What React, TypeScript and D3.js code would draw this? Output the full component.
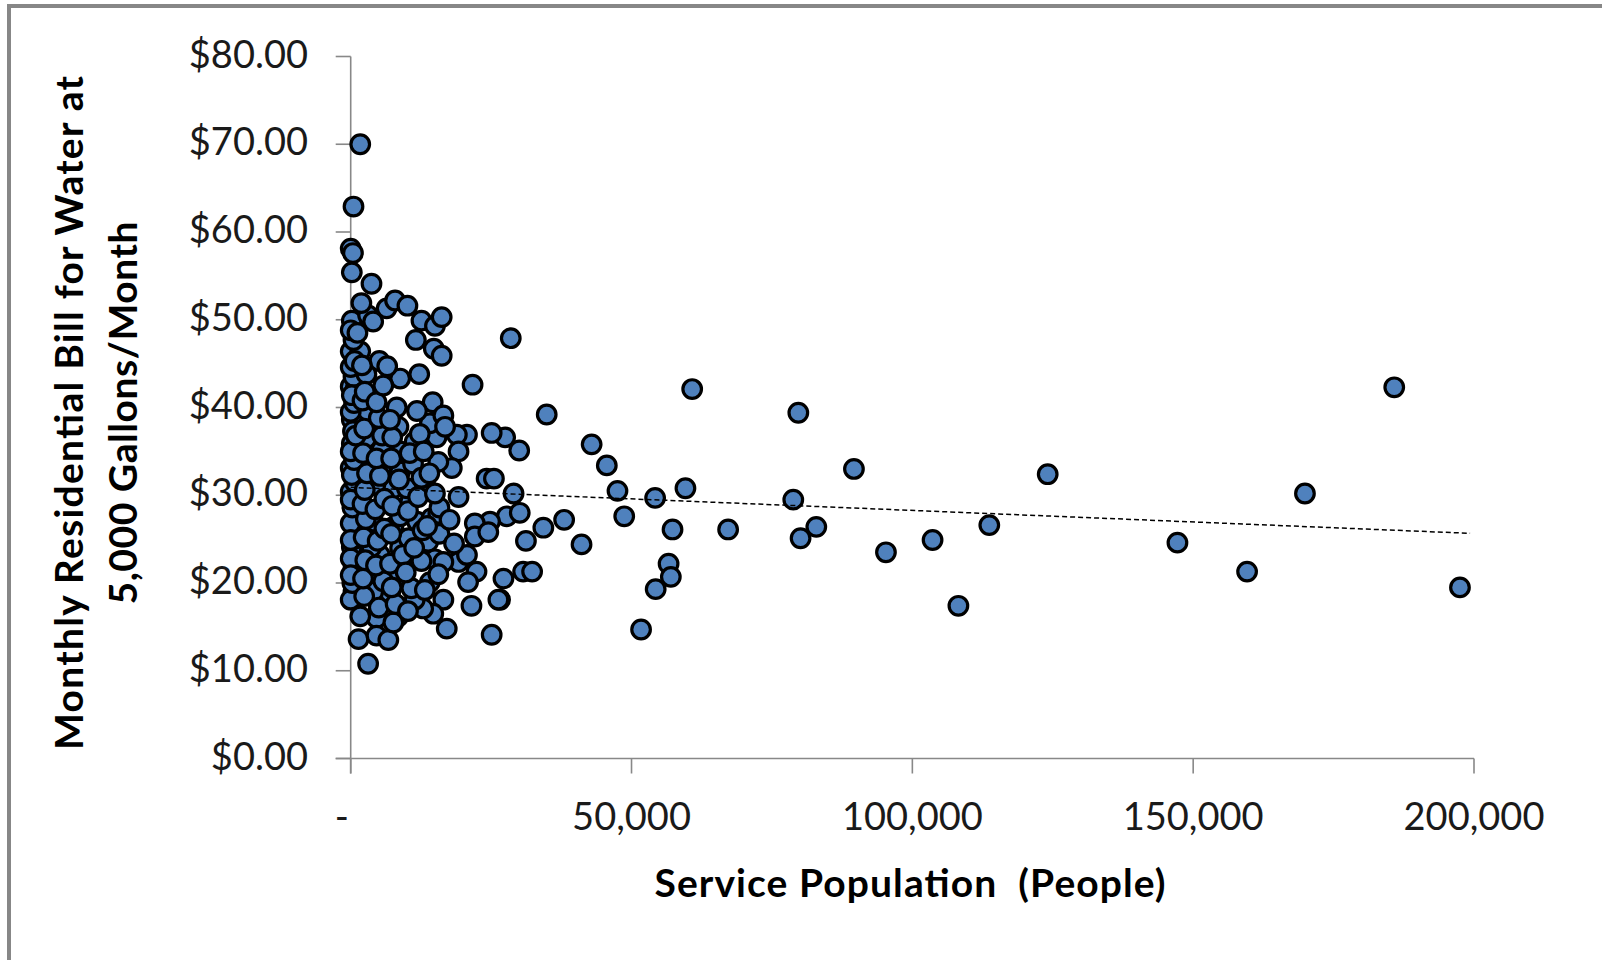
import React from 'react';
import * as d3 from 'd3';

// [service population (people), monthly bill ($)]
const sparseSystems: [number, number][] = [
  [28500, 47.9], [21700, 42.6], [60800, 42.1], [34900, 39.2], [79700, 39.4], [185800, 42.3],
  [42900, 35.8], [45600, 33.4], [89600, 33.0], [124100, 32.4], [169900, 30.2], [47500, 30.5],
  [54200, 29.7], [59600, 30.8], [78800, 29.5], [38000, 27.2], [48700, 27.6], [34300, 26.3],
  [41100, 24.4], [57300, 26.1], [67200, 26.1], [82900, 26.4], [80100, 25.1], [103600, 24.9],
  [113700, 26.6], [95300, 23.5], [147200, 24.6], [159600, 21.3], [197500, 19.5], [108200, 17.4],
  [56600, 22.2], [57000, 20.7], [54300, 19.3], [51700, 14.7], [27500, 36.6], [30000, 35.1],
  [24200, 31.9], [25500, 31.9], [29000, 30.2], [27800, 27.6], [30100, 28.0], [31200, 24.8],
  [27200, 20.5], [30700, 21.3], [32300, 21.3], [26600, 18.1], [25100, 14.1], [25100, 37.1],
  [20700, 36.9], [18900, 36.9], [24800, 27.0], [22100, 26.8], [22100, 25.3], [24500, 25.8],
  [22400, 21.3], [20900, 20.1], [21500, 17.4], [19200, 22.4], [20700, 23.2], [26300, 18.1],
];

const visibleSmallSystems: [number, number][] = [
  [19200, 29.8], [19200, 35.0], [18000, 33.1], [15600, 33.8], [17100, 14.8], [16500, 18.1],
  [14700, 16.5], [12900, 17.1], [14100, 20.1], [11400, 18.1], [8500, 16.2], [4600, 16.0],
  [1700, 16.2], [1400, 13.6], [4600, 14.0], [6700, 13.5], [3100, 10.8], [7000, 18.8],
  [4000, 19.0], [500, 19.0], [0, 18.1], [8200, 20.7], [3400, 21.3], [500, 21.7],
  [5200, 23.2], [11800, 23.2], [8800, 24.0], [3700, 24.1], [200, 24.1], [13800, 24.7],
  [10300, 25.1], [5500, 25.7], [1400, 26.0], [7600, 26.4], [4000, 27.0], [11800, 27.0],
  [14400, 27.4], [15600, 27.9], [1100, 27.6], [10600, 29.3], [1400, 29.8], [4600, 31.2],
  [7600, 30.8], [10000, 30.8], [13500, 30.8], [0, 33.1], [2000, 33.8], [5500, 33.1],
  [8800, 32.7], [11100, 33.6], [200, 35.9], [2800, 36.5], [5500, 35.2], [8800, 35.0],
  [11400, 36.1], [15300, 36.6], [200, 38.6], [4300, 38.2], [8500, 37.8], [14100, 38.2],
  [3000, 39.6], [8200, 40.0], [14600, 40.6], [16500, 39.1], [0, 42.4], [900, 42.2],
  [500, 43.5], [2800, 43.8], [8800, 43.3], [12200, 43.8], [0, 44.6], [5100, 45.3],
  [6500, 44.7], [0, 46.4], [1700, 46.4], [500, 47.7], [11600, 47.7], [14800, 46.7],
  [16200, 45.9], [200, 49.9], [3100, 50.5], [4000, 49.8], [12600, 49.9], [15000, 49.3],
  [16200, 50.3], [1900, 51.9], [6400, 51.3], [7900, 52.2], [10100, 51.6], [3700, 54.1],
  [200, 55.4], [0, 58.1], [400, 57.6], [500, 62.9], [1700, 70.0], [15000, 22.7], [16500, 22.4],
];

const clusteredSmallSystems: [number, number][] = [
  [300, 20.0], [0, 22.8], [600, 25.0], [0, 26.8], [300, 28.6], [0, 30.4], [700, 31.5],
  [200, 32.3], [600, 34.0], [0, 35.0], [400, 37.3], [0, 39.5], [600, 40.5], [200, 41.4],
  [700, 45.3], [0, 48.8], [0, 29.5], [0, 24.9], [900, 36.8], [0, 20.9],
  [2400, 18.5], [2200, 20.5], [2600, 22.6], [2300, 25.2], [2700, 27.3], [2100, 29.0],
  [2500, 30.6], [2900, 32.5], [2200, 34.8], [2400, 37.6], [2100, 40.8], [2500, 41.8],
  [2000, 44.8], [1200, 48.5],
  [5000, 17.2], [5800, 20.2], [4500, 22.0], [4800, 24.8], [6000, 26.2], [4400, 28.4],
  [6000, 29.6], [5200, 32.2], [4600, 34.2], [5600, 36.8], [5000, 38.8], [4600, 40.6], [5800, 42.5],
  [7600, 15.5], [8000, 17.6], [7300, 19.5], [7000, 22.2], [9300, 23.2], [7200, 25.6],
  [8800, 27.6], [7400, 28.8], [8600, 31.8], [7200, 34.2], [7400, 36.6], [7000, 38.6],
  [10200, 16.8], [10800, 19.4], [9800, 21.2], [12600, 22.5], [11300, 24.0], [12800, 26.0],
  [10200, 28.2], [12000, 29.8], [12600, 32.0], [10500, 34.8], [12300, 37.0], [11800, 39.6],
  [13200, 19.2], [15600, 21.0], [15800, 25.6], [13600, 26.5], [15800, 28.6], [15000, 30.2],
  [14000, 32.5], [13000, 35.0], [16800, 37.8], [18400, 24.5], [17600, 27.2],
];

const xTicks = [0, 50000, 100000, 150000, 200000];
const yTicks = [0, 10, 20, 30, 40, 50, 60, 70, 80];
const xDomain = [0, 200000];
const yDomain = [0, 80];

// linear trendline fitted to the data
const trendIntercept = 30.9;
const trendSlope = -5.24 / 199300;
const trendExtent = [0, 199300];

const xTitle = 'Service Population  (People)';
const yTitleLines = ['Monthly Residential Bill for Water at', '5,000 Gallons/Month'];

const W = 1602;
const H = 960;
const FONT = 'Lato, Calibri, "Open Sans", sans-serif';
const AXIS = '#888888';

export default function App() {
  const x = d3.scaleLinear().domain(xDomain).range([350.7, 1474]);
  const y = d3.scaleLinear().domain(yDomain).range([758.5, 56.5]);
  const points = [...sparseSystems, ...visibleSmallSystems, ...clusteredSmallSystems];
  const fmtY = (v: number) => '$' + d3.format('.2f')(v);
  const fmtX = (v: number) => (v === 0 ? '-' : d3.format(',')(v));
  const trendLine = d3
    .line<number>()
    .x((d) => x(d))
    .y((d) => y(trendIntercept + trendSlope * d));

  const x0 = x(0);
  const y0 = y(0);
  const tick = 15;
  const yTitleCenter = 413;
  const yTitleLengths = [674, 383];

  return (
    <svg
      width={W}
      height={H}
      style={{ position: 'absolute', left: 0, top: 0, background: '#fff' }}
      fontFamily={FONT}
    >
      <rect x={0} y={0} width={W} height={H} fill="#fff" />
      <rect x={9} y={6} width={W + 20} height={H + 20} fill="none" stroke="#878787" strokeWidth={4} />

      {/* axes */}
      <line x1={x0} x2={x0} y1={y(80)} y2={y0 + tick} stroke={AXIS} strokeWidth={1.6} />
      <line x1={x0 - tick} x2={x(200000)} y1={y0} y2={y0} stroke={AXIS} strokeWidth={1.6} />
      {yTicks.map((t) => (
        <g key={'y' + t}>
          <line x1={x0 - tick} x2={x0} y1={y(t)} y2={y(t)} stroke={AXIS} strokeWidth={1.6} />
          <text x={308} y={y(t) + 11} textAnchor="end" fontSize={38} fill="#1a1a1a">
            {fmtY(t)}
          </text>
        </g>
      ))}
      {xTicks.map((t) => (
        <g key={'x' + t}>
          <line x1={x(t)} x2={x(t)} y1={y0} y2={y0 + tick} stroke={AXIS} strokeWidth={1.6} />
          <text
            x={t === 0 ? x(t) - 9 : x(t)}
            y={830}
            textAnchor="middle"
            fontSize={38}
            fill="#1a1a1a"
          >
            {fmtX(t)}
          </text>
        </g>
      ))}

      {/* points */}
      {points.map((p, i) => (
        <circle
          key={i}
          cx={x(p[0])}
          cy={y(p[1])}
          r={9.3}
          fill="#4F81BD"
          stroke="#000"
          strokeWidth={3.2}
        />
      ))}

      {/* trendline */}
      <path
        d={trendLine(trendExtent) || ''}
        fill="none"
        stroke="#000"
        strokeWidth={1.5}
        strokeDasharray="5 3"
      />

      {/* titles */}
      <text
        x={910}
        y={897}
        textAnchor="middle"
        fontSize={39}
        fontWeight="bold"
        fill="#000"
        textLength={511}
        lengthAdjust="spacing"
        style={{ whiteSpace: 'pre' }}
      >
        {xTitle}
      </text>
      {yTitleLines.map((line, i) => (
        <text
          key={line}
          transform={`translate(${83 + i * 54}, ${yTitleCenter}) rotate(-90)`}
          textAnchor="middle"
          fontSize={39}
          fontWeight="bold"
          fill="#000"
          textLength={yTitleLengths[i]}
          lengthAdjust="spacing"
        >
          {line}
        </text>
      ))}
    </svg>
  );
}
